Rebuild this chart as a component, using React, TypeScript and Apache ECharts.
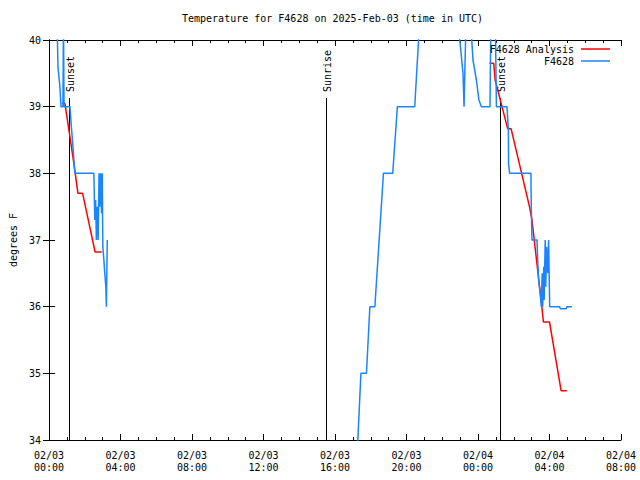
import React, { useEffect, useRef } from "react";
import * as echarts from "echarts";

// Hours since 2025-02-03 00:00 UTC
const analysisHours = [0.72, 0.89, 1.17, 1.39, 1.62, 1.88, 2.58, 2.95, 10,
  24.64, 24.88, 24.96, 25.66, 25.85, 26.88, 27.02, 27.57, 27.66, 28.0, 28.65, 28.97];
const analysisTemps: (number | null)[] = [39.05, 39.05, 38.55, 38.15, 37.7, 37.7, 36.82, 36.82, null,
  39.65, 39.65, 39.4, 38.67, 38.67, 37.5, 37.3, 36.0, 35.77, 35.77, 34.74, 34.74];

const stationHours = [
  0.45, 0.5, 0.61, 0.67, 0.78, 0.81, 0.84, 1.17, 1.25, 1.34, 1.42, 1.45, 2.51, 2.56, 2.61, 2.65,
  2.7, 2.75, 2.8, 2.84, 2.89, 2.94, 2.98, 3.01, 3.07, 3.12, 3.18, 3.21, 3.26,
  10,
  17.26, 17.45, 17.76, 17.95, 18.23, 18.71, 19.23, 19.49, 20.46, 20.74, 22.91, 23.16, 23.22,
  23.33, 23.58, 23.72, 23.91, 24.05, 24.19, 24.67, 24.72, 24.97, 25.03, 25.62, 25.7, 25.71,
  25.77, 26.96, 26.98, 27.02, 27.3, 27.34, 27.39, 27.48, 27.54, 27.59, 27.62, 27.68, 27.7,
  27.76, 27.79, 27.84, 27.9, 27.95, 28.01, 28.57, 28.6, 28.93, 28.97, 29.25,
];
const stationTemps: (number | null)[] = [
  40.3, 39.6, 39.3, 39.0, 39.0, 40.3, 39.0, 39.0, 38.7, 38.4, 38.1, 38.0, 38.0, 37.3, 37.6, 37.0,
  37.5, 37.0, 38.0, 37.5, 38.0, 37.4, 38.0, 36.9, 36.7, 36.5, 36.3, 36.0, 37.0,
  null,
  33.9, 35.0, 35.0, 36.0, 36.0, 38.0, 38.0, 39.0, 39.0, 40.3, 40.2, 39.5, 39.0,
  40.3, 40.3, 39.7, 39.4, 39.1, 39.0, 39.0, 40.3, 40.3, 39.0, 39.0, 38.65, 38.15,
  38.0, 38.0, 37.5, 37.0, 37.0, 36.7, 36.4, 36.2, 36.0, 36.5, 36.0, 36.6, 36.1,
  37.0, 36.3, 36.9, 36.5, 37.0, 36.0, 36.0, 35.97, 35.97, 36.0, 36.0,
];

const sunHours = [1.12, 15.52, 25.25];
const sunLabels = ["Sunset", "Sunrise", "Sunset"];
const sunLineTop = 39.13;

const seriesNames = ["F4628 Analysis", "F4628"];
const seriesColors = ["#ff0000", "#1a85ff"];

const FONT = "DejaVu Sans Mono";

const zip = (xs: number[], ys: (number | null)[]) =>
  xs.map((x, i) => [x, ys[i] === null ? "-" : ys[i]]);

export default function App() {
  const ref = useRef<HTMLDivElement>(null);
  useEffect(() => {
    if (!ref.current) return;
    const chart = echarts.init(ref.current, undefined, { renderer: "svg" });
    const tickLabel = (v: number) => {
      const day = v < 24 ? "02/03" : "02/04";
      const h = Math.round(v % 24);
      return day + "\n" + String(h).padStart(2, "0") + ":00";
    };
    const baseX = {
      type: "value" as const,
      min: 0,
      max: 32,
      interval: 4,
      splitLine: { show: false },
      axisLine: { lineStyle: { color: "#000", width: 1 } },
      axisTick: { inside: true, length: 6, lineStyle: { color: "#000" } },
      minorTick: { show: true, splitNumber: 4, length: 3, lineStyle: { color: "#000" } },
    };
    const baseY = {
      type: "value" as const,
      min: 34,
      max: 40,
      interval: 1,
      splitLine: { show: false },
      axisLine: { show: true, lineStyle: { color: "#000", width: 1 } },
      axisTick: { show: true, inside: true, length: 6, lineStyle: { color: "#000" } },
    };
    const legendBase = {
      right: 30,
      padding: 0,
      align: "right",
      icon: "rect",
      itemWidth: 29,
      itemHeight: 1.5,
      selectedMode: false,
      textStyle: { fontFamily: FONT, fontSize: 10, color: "#000", padding: [0, 2, 0, 0] },
    };
    chart.setOption({
      animation: false,
      backgroundColor: "#fff",
      title: {
        text: "Temperature for F4628 on 2025-Feb-03 (time in UTC)",
        left: 182,
        top: 13,
        padding: 0,
        textStyle: { fontFamily: FONT, fontSize: 10, fontWeight: "normal", color: "#000" },
      },
      legend: [
        { ...legendBase, data: [seriesNames[0]], top: 44 },
        { ...legendBase, data: [seriesNames[1]], top: 56 },
      ],
      grid: { left: 47, right: 19, top: 40, bottom: 40, show: false },
      xAxis: [
        {
          ...baseX,
          position: "bottom",
          axisLabel: {
            formatter: tickLabel,
            fontFamily: FONT,
            fontSize: 10,
            color: "#000",
            lineHeight: 12,
            margin: 9,
            showMinLabel: true,
            showMaxLabel: true,
          },
        },
        { ...baseX, position: "top", axisLabel: { show: false } },
      ],
      yAxis: [
        {
          ...baseY,
          position: "left",
          name: "degrees F",
          nameLocation: "middle",
          nameGap: 31,
          nameTextStyle: { fontFamily: FONT, fontSize: 10, color: "#000" },
          axisLabel: { fontFamily: FONT, fontSize: 10, color: "#000", margin: 8 },
        },
        { ...baseY, position: "right", axisLabel: { show: false } },
      ],
      series: [
        {
          name: seriesNames[0],
          type: "line",
          data: zip(analysisHours, analysisTemps),
          showSymbol: false,
          color: seriesColors[0],
          lineStyle: { width: 1.5, color: seriesColors[0] },
          connectNulls: false,
          clip: true,
        },
        {
          name: seriesNames[1],
          type: "line",
          data: zip(stationHours, stationTemps),
          showSymbol: false,
          color: seriesColors[1],
          lineStyle: { width: 1.5, color: seriesColors[1] },
          connectNulls: false,
          clip: true,
        },
        {
          name: "sun",
          type: "custom",
          data: sunHours.map((t, i) => [t, sunLineTop, i]),
          renderItem: (_params: any, api: any) => {
            const t = api.value(0);
            const top = api.value(1);
            const idx = api.value(2);
            const p0 = api.coord([t, 34]);
            const p1 = api.coord([t, top]);
            const x = Math.round(p0[0]) + 0.5;
            return {
              type: "group",
              children: [
                {
                  type: "line",
                  shape: { x1: x, y1: p0[1], x2: x, y2: p1[1] },
                  style: { stroke: "#000", lineWidth: 1 },
                },
                {
                  type: "text",
                  x: x + 1,
                  y: p1[1] - 6,
                  rotation: Math.PI / 2,
                  style: {
                    text: sunLabels[idx],
                    font: `10px "${FONT}"`,
                    fill: "#000",
                    align: "left",
                    verticalAlign: "middle",
                  },
                },
              ],
            };
          },
          z: 3,
        },
      ],
    });
    return () => chart.dispose();
  }, []);
  return (
    <div
      ref={ref}
      style={{ position: "absolute", left: 0, top: 0, width: 640, height: 480 }}
    />
  );
}
